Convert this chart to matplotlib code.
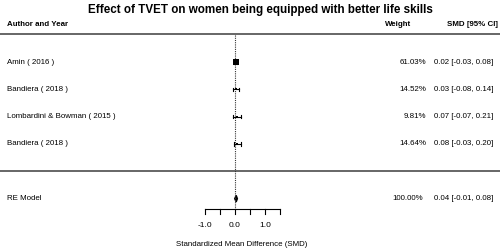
import matplotlib.pyplot as plt
import numpy as np
from matplotlib.patches import Polygon

plt.rcParams['font.family'] = ['Liberation Sans', 'DejaVu Sans']

studies = ['Amin ( 2016 )', 'Bandiera ( 2018 )', 'Lombardini & Bowman ( 2015 )', 'Bandiera ( 2018 )']
weights = [61.03, 14.52, 9.81, 14.64]
smd = [0.02, 0.03, 0.07, 0.08]
ci_lo = [-0.03, -0.08, -0.07, -0.03]
ci_hi = [0.08, 0.14, 0.21, 0.20]

re_smd, re_lo, re_hi = 0.04, -0.01, 0.08
re_weight = 100.00

ticks = [-1.0, -0.5, 0.0, 0.5, 1.0, 1.5]
tick_labels = ['-1.0', '', '0.0', '', '1.0', '']

fs = 5.7

fig = plt.figure(figsize=(5, 2.5), dpi=100)
ax = fig.add_axes([0, 0, 1, 1])
ax.set_xlim(-235 / 30, 265 / 30)
ax.set_ylim(-2.88, 6.27)
ax.axis('off')

k = len(studies)
rows = np.arange(k, 0, -1)
tr = ax.get_yaxis_transform()  # x in axes fraction, y in data

fig.text(0.52, 1 - 10 / 250, 'Effect of TVET on women being equipped with better life skills',
         ha='center', va='center', fontsize=8.4, fontweight='bold')

# header
ax.text(0.014, 5.39, 'Author and Year', transform=tr, ha='left', va='center', fontsize=fs, fontweight='bold')
ax.text(0.822, 5.39, 'Weight', transform=tr, ha='right', va='center', fontsize=fs, fontweight='bold')
ax.text(0.996, 5.39, 'SMD [95% CI]', transform=tr, ha='right', va='center', fontsize=fs, fontweight='bold')

ax.axhline(k + 1.02, color='#5a5a5a', lw=1.3)
ax.axhline(0, color='#5a5a5a', lw=1.3)
ax.plot([0, 0], [k + 1.0, -1.38], color='#333333', lw=0.8, ls=(0, (1, 1)))

wmax = max(weights)
for y, name, w, m, lo, hi in zip(rows, studies, weights, smd, ci_lo, ci_hi):
    ax.plot([lo, hi], [y, y], color='black', lw=0.8)
    for e in (lo, hi):
        ax.plot([e, e], [y - 0.06, y + 0.06], color='black', lw=0.8)
    ax.plot(m, y, marker='s', color='black', ms=1.5 + 3.5 * (w / wmax) ** 2, mew=0)
    ax.text(0.014, y, name, transform=tr, ha='left', va='center', fontsize=fs)
    ax.text(0.852, y, f'{w:.2f}%', transform=tr, ha='right', va='center', fontsize=fs)
    ax.text(0.986, y, f'{m:.2f} [{lo:.2f}, {hi:.2f}]', transform=tr, ha='right', va='center', fontsize=fs)

# RE model diamond
yre = -1
ax.add_patch(Polygon([[re_lo, yre], [re_smd, yre + 0.12], [re_hi, yre], [re_smd, yre - 0.12]],
                     closed=True, color='black'))
ax.text(0.014, yre, 'RE Model', transform=tr, ha='left', va='center', fontsize=fs)
ax.text(0.846, yre, f'{re_weight:.2f}%', transform=tr, ha='right', va='center', fontsize=fs)
ax.text(0.986, yre, f'{re_smd:.2f} [{re_lo:.2f}, {re_hi:.2f}]', transform=tr, ha='right', va='center', fontsize=fs)

# x axis
ya = -1.38
ax.plot([ticks[0], ticks[-1]], [ya, ya], color='black', lw=0.8)
for t, lab in zip(ticks, tick_labels):
    ax.plot([t, t], [ya, ya - 0.17], color='black', lw=0.8)
    if lab:
        ax.text(t, -1.97, lab, ha='center', va='center', fontsize=6.0)
ax.text(0.484, -2.68, 'Standardized Mean Difference (SMD)', transform=tr,
        ha='center', va='center', fontsize=fs)

fig.savefig('out.png', dpi=100)
